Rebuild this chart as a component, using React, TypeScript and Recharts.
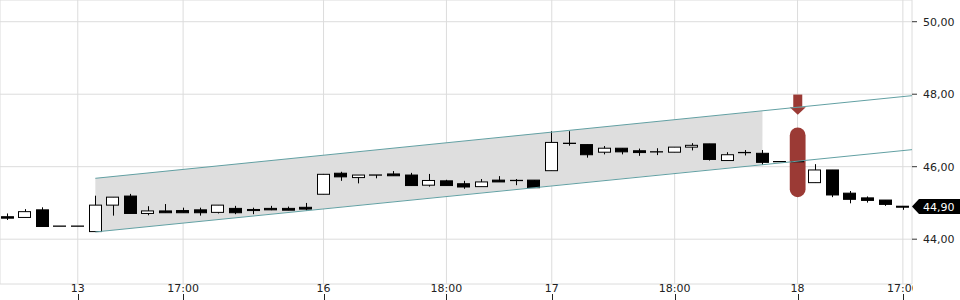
import React from 'react';
import { ComposedChart, Bar, Area, XAxis, YAxis, CartesianGrid, ReferenceLine } from 'recharts';

// candles, oldest first
const opens = [
  44.62, 44.6, 44.81, 44.36, 44.36, 44.21, 44.94, 45.19, 44.71, 44.78,
  44.79, 44.81, 44.74, 44.85, 44.82, 44.85, 44.85, 44.88, 45.24, 45.82,
  45.7, 45.77, 45.8, 45.77, 45.49, 45.61, 45.53, 45.45, 45.63, 45.62,
  45.63, 45.89, 46.645, 46.61, 46.4, 46.51, 46.44, 46.41, 46.4, 46.54,
  46.63, 46.17, 46.39, 46.37, 46.14, 46.14, 45.56, 45.91, 45.27, 45.14,
  45.08, 44.91,
];
const highs = [
  44.71, 44.83, 44.88, 44.36, 44.36, 45.2, 45.16, 45.25, 44.91, 44.97,
  44.87, 44.87, 44.94, 44.92, 44.87, 44.92, 44.9, 45.0, 45.8, 45.86,
  45.77, 45.77, 45.88, 45.83, 45.8, 45.64, 45.61, 45.66, 45.74, 45.66,
  45.63, 46.98, 46.98, 46.61, 46.57, 46.51, 46.5, 46.51, 46.54, 46.65,
  46.63, 46.4, 46.46, 46.46, 46.14, 46.14, 46.07, 45.91, 45.33, 45.18,
  45.08, 44.91,
];
const lows = [
  44.53, 44.6, 44.35, 44.36, 44.36, 44.21, 44.65, 44.71, 44.66, 44.73,
  44.73, 44.65, 44.71, 44.69, 44.69, 44.8, 44.8, 44.79, 45.24, 45.61,
  45.54, 45.68, 45.75, 45.48, 45.45, 45.48, 45.39, 45.45, 45.58, 45.49,
  45.42, 45.89, 46.58, 46.25, 46.34, 46.34, 46.3, 46.32, 46.4, 46.45,
  46.17, 46.17, 46.31, 46.05, 46.14, 46.14, 45.56, 45.16, 44.99, 45.01,
  44.92, 44.81,
];
const closes = [
  44.58, 44.76, 44.35, 44.36, 44.36, 44.94, 45.16, 44.71, 44.78, 44.73,
  44.73, 44.73, 44.94, 44.73, 44.79, 44.81, 44.8, 44.83, 45.79, 45.72,
  45.77, 45.77, 45.75, 45.48, 45.62, 45.48, 45.44, 45.58, 45.58, 45.62,
  45.42, 46.67, 46.645, 46.33, 46.51, 46.41, 46.39, 46.41, 46.54, 46.59,
  46.2, 46.33, 46.39, 46.12, 46.14, 46.14, 45.91, 45.22, 45.1, 45.07,
  44.96, 44.9,
];

const tickIndex = [4, 10, 18, 25, 31, 38, 45, 51];
const tickLabels = ['13', '17:00', '16', '18:00', '17', '18:00', '18', '17:00'];
const priceTicks = [44, 46, 48, 50];

// trend channel
const channelUpper = [{ x: 5, y: 45.68 }, { x: 51.52, y: 47.96 }];
const channelLower = [{ x: 5, y: 44.2 }, { x: 51.52, y: 46.47 }];
const channelBand = [{ i: 5, lo: 44.2, hi: 45.68 }, { i: 43, lo: 46.07, hi: 47.54 }];

// breakout signal
const signalIndex = 45;
const signalRange = [45.16, 47.08];
const arrowRange = [47.43, 47.99];
const arrowNeck = 47.64;

const candles = opens.map((o, i) => ({
  i,
  o,
  h: highs[i],
  l: lows[i],
  c: closes[i],
  range: [lows[i], highs[i]],
  signal: i === signalIndex ? signalRange : null,
  arrow: i === signalIndex ? arrowRange : null,
}));

const lastPrice = closes[closes.length - 1];
const fmt = (v: number) => v.toFixed(2).replace('.', ',');
const FONT = 'DejaVu Sans';
const RED = '#9b3a35';
const TEAL = '#62a0a3';

const Candle = (props: any) => {
  const { x, y, width, height, payload } = props;
  if (!payload) return null;
  const { o, h, l, c } = payload;
  const top = Math.min(y, y + height);
  const px = Math.abs(height);
  const toY = (v: number) => (h > l ? top + ((h - v) / (h - l)) * px : top);
  const cx = Math.round(x + width / 2) + 0.5;
  const left = Math.round(x) + 0.5;
  const w = Math.round(width) - 1;
  const yo = toY(o);
  const yc = toY(c);
  const bTop = Math.min(yo, yc);
  const bBot = Math.max(yo, yc);
  return (
    <g>
      {h > l && <line x1={cx} x2={cx} y1={toY(h)} y2={toY(l)} stroke="#000" />}
      {o === c ? (
        <line x1={left - 0.5} x2={left + w + 0.5} y1={yo} y2={yo} stroke="#000" strokeWidth={1.3} />
      ) : (
        <rect
          x={left}
          y={bTop}
          width={w}
          height={Math.max(bBot - bTop, 1)}
          fill={c > o ? '#fff' : '#000'}
          stroke="#000"
        />
      )}
    </g>
  );
};

const Pill = (props: any) => {
  const { x, y, width, height, payload } = props;
  if (!payload || !payload.signal) return null;
  const top = Math.min(y, y + height);
  return <rect x={x} y={top} width={width} height={Math.abs(height)} rx={width / 2} fill={RED} />;
};

const Arrow = (props: any) => {
  const { x, y, width, height, payload } = props;
  if (!payload || !payload.arrow) return null;
  const top = Math.min(y, y + height);
  const px = Math.abs(height);
  const neck = top + ((arrowRange[1] - arrowNeck) / (arrowRange[1] - arrowRange[0])) * px;
  const cx = x + width / 2;
  return (
    <g fill={RED}>
      <rect x={cx - 4.5} y={top} width={9} height={neck - top} />
      <polygon points={`${cx - width / 2},${neck} ${cx + width / 2},${neck} ${cx},${top + px}`} />
    </g>
  );
};

// labels sit just under the plot, tick marks at the bottom edge
const TimeTick = (props: any) => {
  const { x, payload, index } = props;
  const k = tickIndex.indexOf(payload.value);
  const id = `xclip-${index}`;
  const tx = Math.round(x) + 0.5;
  return (
    <g>
      <defs>
        <clipPath id={id}>
          <rect x={0} y={0} width={913} height={300} />
        </clipPath>
      </defs>
      <text
        x={x}
        y={292}
        textAnchor="middle"
        fill="#222"
        fontSize={11}
        fontFamily={FONT}
        clipPath={`url(#${id})`}
      >
        {k >= 0 ? tickLabels[k] : ''}
      </text>
      <line x1={tx} x2={tx} y1={294} y2={300} stroke="#222" />
    </g>
  );
};

const PriceTag = (props: any) => {
  const vb = props.viewBox || {};
  const tip = vb.x + vb.width;
  const yy = vb.y;
  return (
    <g>
      <polygon
        points={`${tip},${yy} ${tip + 7},${yy - 7.5} 960,${yy - 7.5} 960,${yy + 7.5} ${tip + 7},${yy + 7.5}`}
        fill="#000"
      />
      <text x={tip + 11} y={yy} dy="0.36em" fill="#fff" fontSize={11} fontFamily={FONT}>
        {fmt(lastPrice)}
      </text>
    </g>
  );
};

const xDomain: [number, number] = [-0.43, 51.52];

export default function App() {
  return (
    <div style={{ position: 'absolute', left: 0, top: 0, width: 960, height: 300, background: '#fff' }}>
      <ComposedChart width={960} height={300} data={candles} margin={{ top: 0, right: 0, bottom: 0, left: 0 }}>
        <CartesianGrid xAxisId="x" stroke="#dcdcdc" />
        <XAxis
          xAxisId="x"
          type="number"
          dataKey="i"
          domain={xDomain}
          ticks={tickIndex}
          allowDataOverflow
          height={16}
          tickSize={0}
          tickMargin={0}
          axisLine={false}
          tickLine={false}
          interval={0}
          tick={<TimeTick />}
        />
        <XAxis xAxisId="s1" type="number" dataKey="i" domain={xDomain} allowDataOverflow hide />
        <XAxis xAxisId="s2" type="number" dataKey="i" domain={xDomain} allowDataOverflow hide />
        <YAxis
          orientation="right"
          width={48}
          domain={[42.764, 50.599]}
          ticks={priceTicks}
          allowDataOverflow
          tickFormatter={fmt}
          tickSize={5}
          tickMargin={6}
          axisLine={false}
          tickLine={{ stroke: '#333' }}
          tick={{ fill: '#222', fontSize: 11, fontFamily: FONT }}
        />
        <Area
          xAxisId="x"
          data={channelBand}
          dataKey={(d: any) => [d.lo, d.hi]}
          type="linear"
          stroke="none"
          fill="#dedede"
          fillOpacity={1}
          dot={false}
          activeDot={false}
          isAnimationActive={false}
        />
        <ReferenceLine xAxisId="x" segment={channelUpper} stroke={TEAL} strokeWidth={1} ifOverflow="visible" />
        <ReferenceLine xAxisId="x" segment={channelLower} stroke={TEAL} strokeWidth={1} ifOverflow="visible" />
        <Bar xAxisId="s1" dataKey="signal" barSize={18} shape={<Pill />} isAnimationActive={false} />
        <Bar xAxisId="s2" dataKey="arrow" barSize={16} shape={<Arrow />} isAnimationActive={false} />
        <Bar xAxisId="x" dataKey="range" barSize={13} shape={<Candle />} isAnimationActive={false} />
        <ReferenceLine xAxisId="x" y={lastPrice} stroke="none" label={<PriceTag />} />
      </ComposedChart>
    </div>
  );
}
